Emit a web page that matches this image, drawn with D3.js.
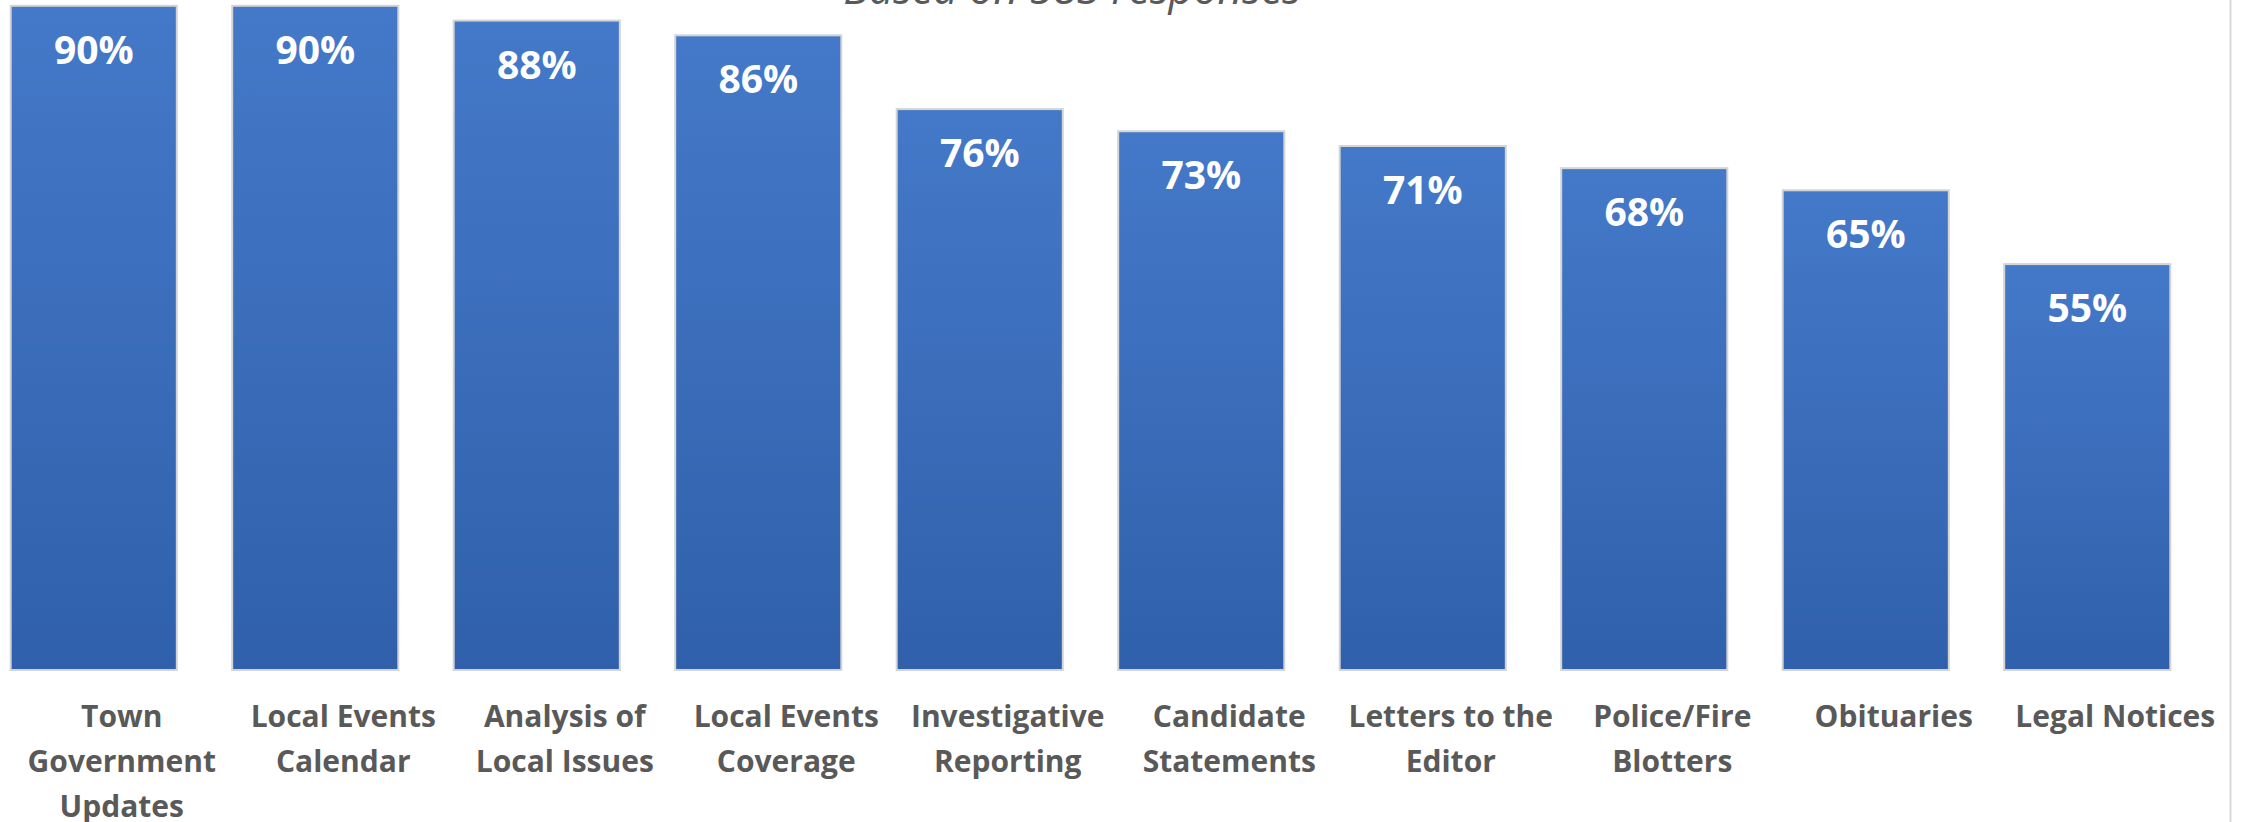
<!DOCTYPE html>
<html>
<head>
<meta charset="utf-8">
<script src="https://cdn.jsdelivr.net/npm/d3@7"></script>
<style>
  html, body { margin: 0; padding: 0; background: #fff; overflow: hidden; }
  svg { display: block; font-family: "Open Sans", "Noto Sans", sans-serif; }
</style>
</head>
<body>
<script>
// survey results, share of respondents (%)
const categories = [
  "Town Government Updates", "Local Events Calendar", "Analysis of Local Issues",
  "Local Events Coverage", "Investigative Reporting", "Candidate Statements",
  "Letters to the Editor", "Police/Fire Blotters", "Obituaries", "Legal Notices"
];
const values = [90, 90, 88, 86, 76, 73, 71, 68, 65, 55];
const subtitle = "Based on 583 responses";

const width = 2247, height = 822;
// plot area runs past the top edge of the picture (chart is cropped)
const plot = { left: -17, right: 2198, top: -68, bottom: 670 };

const svg = d3.select("body").append("svg")
  .attr("width", width)
  .attr("height", height);

const grad = svg.append("defs").append("linearGradient")
  .attr("id", "barfill")
  .attr("x1", 0).attr("y1", 0).attr("x2", 0).attr("y2", 1);
grad.append("stop").attr("offset", "0%").attr("stop-color", "#4479C9");
grad.append("stop").attr("offset", "100%").attr("stop-color", "#3060AB");

const x = d3.scaleBand()
  .domain(categories)
  .range([plot.left, plot.right])
  .paddingInner(0.25)
  .paddingOuter(0.125);

const y = d3.scaleLinear()
  .domain([0, 100])
  .range([plot.bottom, plot.top]);

// chart frame edge on the right
svg.append("line")
  .attr("x1", 2230.5).attr("x2", 2230.5)
  .attr("y1", 0).attr("y2", height)
  .attr("stroke", "#d9d9d9").attr("stroke-width", 2);

// subtitle, mostly cut off by the crop
svg.append("text")
  .attr("x", 1072).attr("y", 4)
  .attr("text-anchor", "middle")
  .style("font-style", "italic")
  .style("font-size", "43px")
  .style("fill", "#595959")
  .text(subtitle);

const bars = svg.append("g").selectAll("g")
  .data(values)
  .enter().append("g");

bars.append("rect")
  .attr("x", (d, i) => x(categories[i]))
  .attr("y", d => y(d))
  .attr("width", x.bandwidth())
  .attr("height", d => y(0) - y(d))
  .attr("fill", "url(#barfill)")
  .attr("stroke", "#d4d4d4")
  .attr("stroke-width", 2);

bars.append("text")
  .attr("x", (d, i) => x(categories[i]) + x.bandwidth() / 2)
  .attr("y", d => y(d) + 58)
  .attr("text-anchor", "middle")
  .style("font-size", "39px")
  .style("font-weight", "bold")
  .style("fill", "#ffffff")
  .text(d => d + "%");

// category labels, wrapped to the band step (sit a bit right of the bar centre)
const labelShift = 28;
const labels = svg.append("g").selectAll("text")
  .data(categories)
  .enter().append("text")
  .attr("text-anchor", "middle")
  .style("font-size", "30px")
  .style("font-weight", "bold")
  .style("fill", "#595959")
  .attr("transform", d => `translate(${x(d) + x.bandwidth() / 2 + labelShift}, 727)`);

labels.each(function (d) {
  const t = d3.select(this);
  const words = d.split(" ");
  let line = [];
  let tspan = t.append("tspan").attr("x", 0).attr("dy", 0);
  words.forEach(w => {
    line.push(w);
    tspan.text(line.join(" "));
    if (tspan.node().getComputedTextLength() > x.step() - 4 && line.length > 1) {
      line.pop();
      tspan.text(line.join(" "));
      line = [w];
      tspan = t.append("tspan").attr("x", 0).attr("dy", 45).text(w);
    }
  });
});
</script>
</body>
</html>
